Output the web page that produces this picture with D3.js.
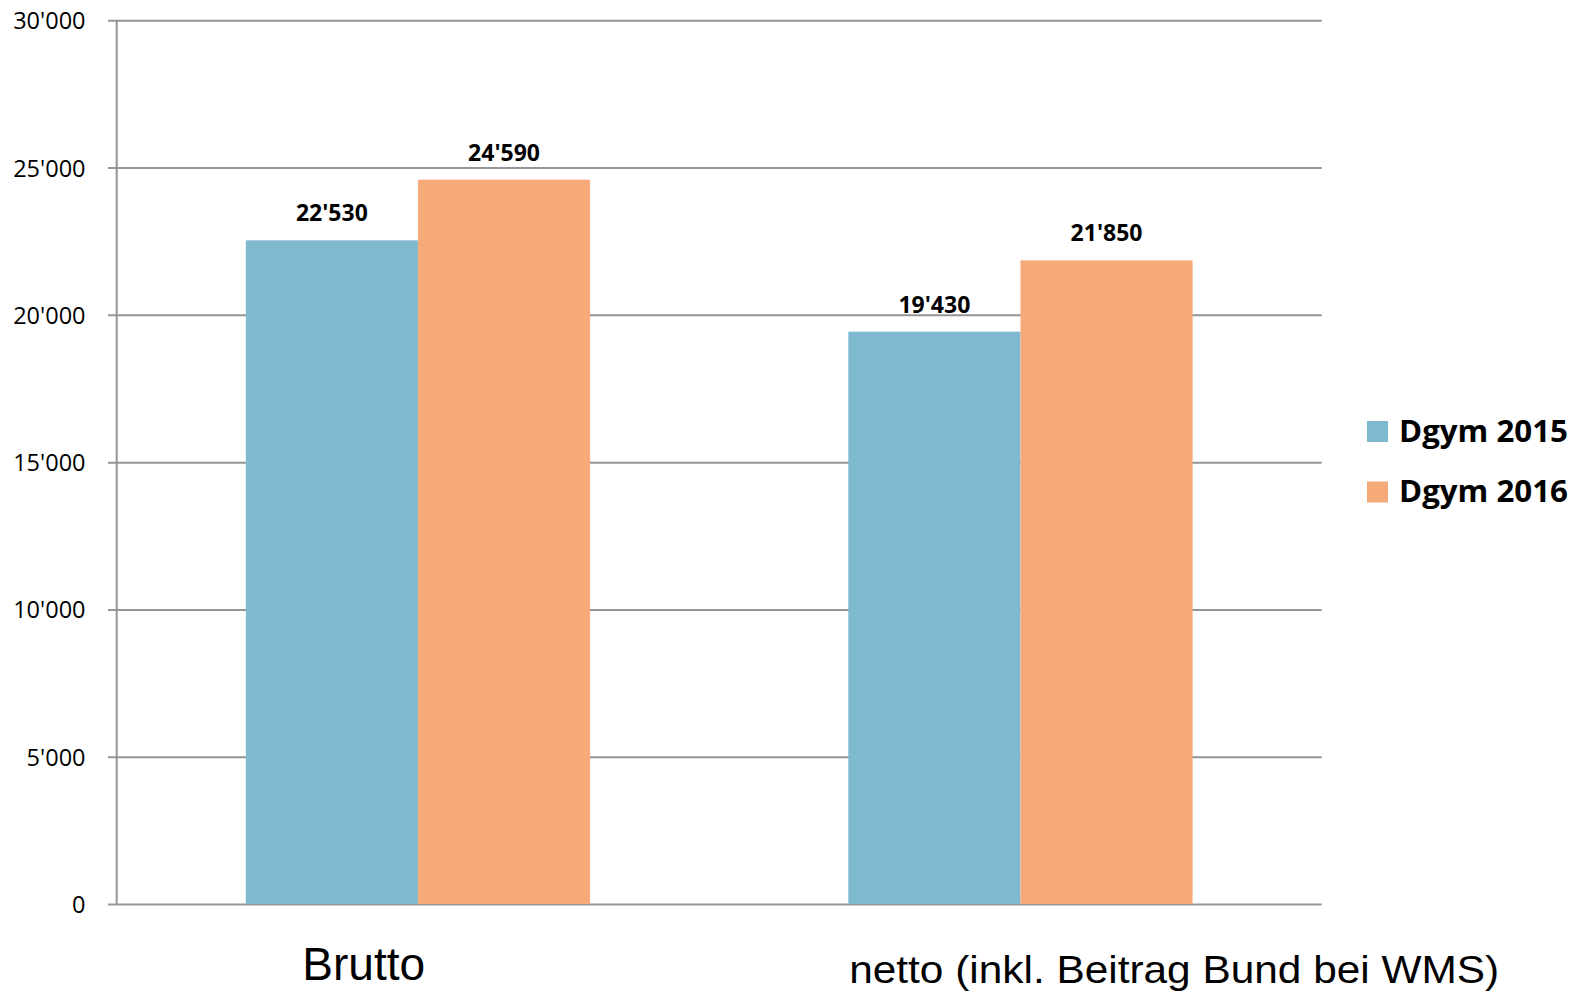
<!DOCTYPE html>
<html>
<head>
<meta charset="utf-8">
<script src="https://cdn.jsdelivr.net/npm/d3@7"></script>
<style>
  html, body { margin: 0; padding: 0; background: #fff; }
  svg { display: block; }
</style>
</head>
<body>
<svg id="chart" width="1591" height="993"></svg>
<script>
// Chart data
const categories = ["Brutto", "netto (inkl. Beitrag Bund bei WMS)"];
const seriesNames = ["Dgym 2015", "Dgym 2016"];
const values2015 = [22530, 19430];
const values2016 = [24590, 21850];
const yTicks = [0, 5000, 10000, 15000, 20000, 25000, 30000];
const seriesColors = ["#7fb9cf", "#f7aa79"];

const seriesValues = [values2015, values2016];
const fmt = v => d3.format(",")(v).replace(/,/g, "'");

const svg = d3.select("#chart");
const plot = { left: 116.7, right: 1321.7, top: 20.3, bottom: 904 };

const y = d3.scaleLinear().domain([0, 30000]).range([plot.bottom, plot.top]);
const x0 = d3.scaleBand().domain(categories).range([plot.left, plot.right])
  .paddingInner(0).paddingOuter(0);
const x1 = d3.scaleBand().domain(seriesNames).range([0, x0.bandwidth()])
  .paddingInner(0).paddingOuter(0.75);

// Gridlines with short outer ticks
const yAxis = d3.axisLeft(y).tickValues(yTicks)
  .tickSize(-(plot.right - plot.left))
  .tickFormat(fmt);
const gy = svg.append("g").attr("transform", `translate(${plot.left},0)`).call(yAxis);
gy.select(".domain").remove();
gy.selectAll(".tick line")
  .attr("x1", -8.7)
  .attr("stroke", "#959595").attr("stroke-width", 2);
gy.selectAll(".tick text")
  .attr("x", -31.2)
  .attr("dy", "0.36em")
  .attr("fill", "#000")
  .style("font-family", "'Open Sans', sans-serif")
  .style("font-size", "23.5px");

// Vertical axis line
svg.append("line")
  .attr("x1", plot.left).attr("x2", plot.left)
  .attr("y1", y(30000)).attr("y2", y(0))
  .attr("stroke", "#959595").attr("stroke-width", 2);

// Bars
const groups = svg.append("g").selectAll("g")
  .data(categories)
  .join("g")
  .attr("transform", c => `translate(${x0(c)},0)`);

groups.selectAll("rect")
  .data((c, i) => seriesNames.map((s, j) => ({ s, j, v: seriesValues[j][i] })))
  .join("rect")
  .attr("x", d => x1(d.s))
  .attr("width", x1.bandwidth())
  .attr("y", d => y(d.v))
  .attr("height", d => y(0) - y(d.v))
  .attr("fill", d => seriesColors[d.j]);

groups.selectAll("text.value")
  .data((c, i) => seriesNames.map((s, j) => ({ s, j, v: seriesValues[j][i] })))
  .join("text")
  .attr("class", "value")
  .attr("x", d => x1(d.s) + x1.bandwidth() / 2)
  .attr("y", d => y(d.v) - 19)
  .attr("text-anchor", "middle")
  .style("font-family", "'Open Sans', sans-serif")
  .style("font-weight", "bold")
  .style("font-size", "23px")
  .text(d => fmt(d.v));

// Category labels
const catLabelStyle = [
  { dx: 185.5, size: 47, length: 123 },
  { dx: 130, size: 39, length: 650 }
];
svg.append("g").selectAll("text")
  .data(categories)
  .join("text")
  .attr("x", (c, i) => x0(c) + catLabelStyle[i].dx)
  .attr("y", (c, i) => i === 0 ? 980 : 982.5)
  .attr("textLength", (c, i) => catLabelStyle[i].length)
  .attr("lengthAdjust", "spacingAndGlyphs")
  .style("font-family", "'Liberation Sans', Arial, sans-serif")
  .style("font-size", (c, i) => catLabelStyle[i].size + "px")
  .text(c => c);

// Legend
const legend = svg.append("g").attr("transform", "translate(1367,421)");
const items = legend.selectAll("g")
  .data(seriesNames)
  .join("g")
  .attr("transform", (s, i) => `translate(0,${i * 60.5})`);
items.append("rect")
  .attr("width", 21).attr("height", 21)
  .attr("fill", (s, i) => seriesColors[i]);
items.append("text")
  .attr("x", 32).attr("y", 20.5)
  .attr("textLength", 169)
  .attr("lengthAdjust", "spacingAndGlyphs")
  .style("font-family", "'Open Sans', sans-serif")
  .style("font-weight", "bold")
  .style("font-size", "30.5px")
  .text(s => s);
</script>
</body>
</html>
